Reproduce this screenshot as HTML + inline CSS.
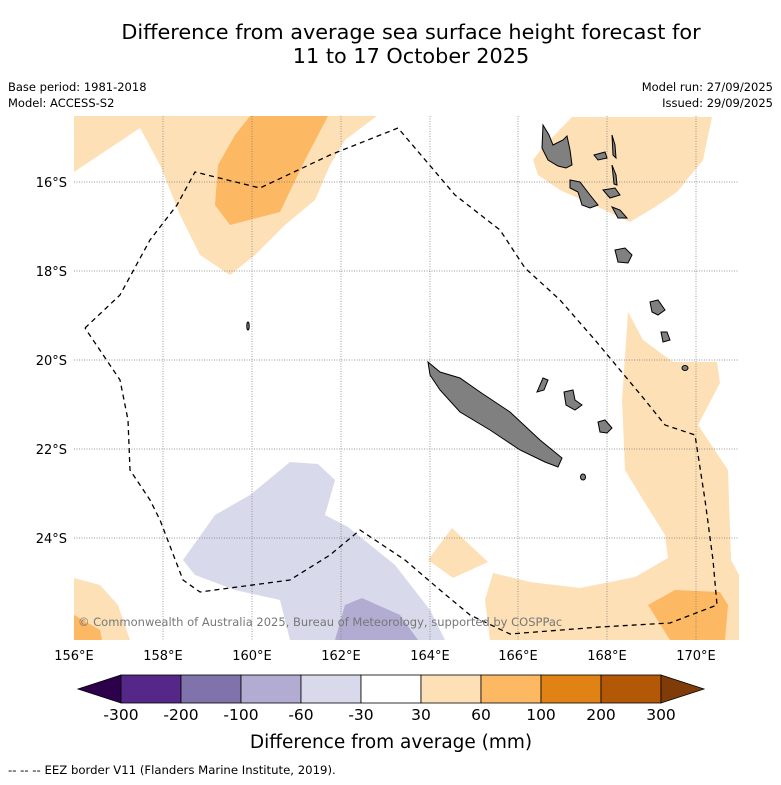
<!DOCTYPE html>
<html><head><meta charset="utf-8"><style>
body{margin:0;background:#fff;font-family:"DejaVu Sans","Liberation Sans",sans-serif}
svg text{font-family:"DejaVu Sans","Liberation Sans",sans-serif}
</style></head><body>
<svg width="781" height="781" viewBox="0 0 781 781">
<text x="411" y="39" text-anchor="middle" font-size="20.8">Difference from average sea surface height forecast for</text>
<text x="411" y="63" text-anchor="middle" font-size="20.8">11 to 17 October 2025</text>
<text x="8" y="91" font-size="11.5">Base period: 1981-2018</text>
<text x="8" y="107" font-size="11.5">Model: ACCESS-S2</text>
<text x="773" y="91" font-size="11.5" text-anchor="end">Model run: 27/09/2025</text>
<text x="773" y="107" font-size="11.5" text-anchor="end">Issued: 29/09/2025</text>
<defs><clipPath id="mc"><rect x="74" y="116" width="665" height="524"/></clipPath></defs>
<g clip-path="url(#mc)">
<polygon fill="#fee0b6" points="74,116 377,116 345,140 330,165 315,200 285,225 255,255 230,275 200,255 180,215 160,165 140,128 74,172"/>
<polygon fill="#fdb863" points="250,116 328,116 305,160 280,212 230,225 215,205 218,165 235,135"/>
<polygon fill="#fee0b6" points="572,117 712,117 703,160 677,192 655,207 630,222 600,208 560,190 538,175 533,160 543,147"/>
<polygon fill="#fee0b6" points="628,312 643,340 673,362 717,362 720,383 698,425 728,470 731,560 739,575 739,640 490,640 485,600 493,573 530,582 580,588 635,577 668,558 665,535 640,495 625,470 622,400"/>
<polygon fill="#fdb863" points="648,605 675,590 720,592 728,605 725,640 670,640"/>
<polygon fill="#fee0b6" points="428,560 452,528 488,562 453,578"/>
<polygon fill="#fee0b6" points="74,578 100,585 118,605 130,640 74,640"/>
<polygon fill="#fdb863" points="74,615 100,630 102,640 74,640"/>
<polygon fill="#d8daeb" points="183,560 215,515 250,495 290,462 318,464 335,480 325,515 348,527 395,565 430,610 445,640 290,640 280,600 235,590 195,575"/>
<polygon fill="#b2abd2" points="335,640 345,605 362,598 400,615 418,640"/>
<g stroke="#777" stroke-width="0.7" stroke-dasharray="1,1.5">
<line x1="163" y1="116" x2="163" y2="640"/><line x1="252" y1="116" x2="252" y2="640"/><line x1="341" y1="116" x2="341" y2="640"/><line x1="430" y1="116" x2="430" y2="640"/><line x1="518" y1="116" x2="518" y2="640"/><line x1="607" y1="116" x2="607" y2="640"/><line x1="696" y1="116" x2="696" y2="640"/>
<line x1="74" y1="182" x2="739" y2="182"/><line x1="74" y1="271" x2="739" y2="271"/><line x1="74" y1="360" x2="739" y2="360"/><line x1="74" y1="449" x2="739" y2="449"/><line x1="74" y1="538" x2="739" y2="538"/>
</g>
<g fill="#808080" stroke="#000" stroke-width="1">
<polygon points="428,362 440,372 460,378 480,392 510,412 540,440 562,458 558,467 545,462 520,450 490,430 460,412 440,390 430,375"/>
<polygon points="543,125 549,135 553,145 563,140 567,136 570,150 572,165 566,168 558,166 548,160 542,148"/>
<polygon points="570,180 580,182 590,195 598,205 590,208 582,205 578,192 570,188"/>
<polygon points="603,190 615,188 620,195 610,198"/>
<polygon points="615,250 625,248 632,255 628,263 618,262"/>
<polygon points="612,135 615,145 616,158 613,155"/>
<polygon points="594,155 605,152 607,158 598,160"/>
<polygon points="612,165 616,175 617,185 614,184"/>
<polygon points="612,207 620,210 627,218 618,218"/>
<polygon points="564,392 573,390 575,400 582,405 575,410 566,405"/>
<polygon points="598,422 605,420 612,428 607,433 600,432"/>
<polygon points="543,378 548,380 544,390 537,392"/>
<polygon points="650,302 658,300 665,310 658,315 652,312"/>
<polygon points="661,332 667,332 670,340 663,342"/>
<ellipse cx="685" cy="368" rx="3" ry="2.5"/>
<ellipse cx="583" cy="477" rx="2.5" ry="3"/>
<ellipse cx="248" cy="326" rx="1.2" ry="4"/>
</g>
<polyline fill="none" stroke="#000" stroke-width="1.3" stroke-dasharray="5,4" points="85,328 120,295 150,240 177,205 195,172 260,188 330,155 398,128 455,195 500,230 525,268 560,300 595,340 620,370 645,400 665,425 695,435 705,500 713,560 717,605 670,623 600,627 510,634 470,615 440,590 405,560 360,530 330,555 290,580 200,592 183,580 160,520 150,500 130,470 128,420 120,380 85,328"/>
</g>
<text x="78" y="626" font-size="11.5" fill="#777">© Commonwealth of Australia 2025, Bureau of Meteorology, supported by COSPPac</text>
<g font-size="13" text-anchor="end">
<text x="67" y="187">16°S</text><text x="67" y="276">18°S</text><text x="67" y="365">20°S</text><text x="67" y="454">22°S</text><text x="67" y="543">24°S</text>
</g>
<g font-size="13" text-anchor="middle">
<text x="74" y="660">156°E</text><text x="163" y="660">158°E</text><text x="252" y="660">160°E</text><text x="341" y="660">162°E</text><text x="430" y="660">164°E</text><text x="518" y="660">166°E</text><text x="607" y="660">168°E</text><text x="696" y="660">170°E</text>
</g>
<g id="cbar"></g>
<text x="391" y="748" text-anchor="middle" font-size="18.5">Difference from average (mm)</text>
<text x="8" y="774" font-size="11.7">--  --  -- EEZ border V11 (Flanders Marine Institute, 2019).</text>
</svg>
<script>
const cbLabels=["-300","-200","-100","-60","-30","30","60","100","200","300"];
const cbColors=["#542788","#8073ac","#b2abd2","#d8daeb","#ffffff","#fee0b6","#fdb863","#e08214","#b35806"];
const cbUnder="#2d004b", cbOver="#7f3b08";
const NS="http://www.w3.org/2000/svg";
const g=document.getElementById('cbar');
const x0=121,w=60,y0=675,h=28;
function mk(t,a){const e=document.createElementNS(NS,t);for(const k in a)e.setAttribute(k,a[k]);g.appendChild(e);return e;}
let p=mk('polygon',{points:`${x0},${y0} 78,${y0+h/2} ${x0},${y0+h}`,fill:cbUnder,stroke:'#000','stroke-width':0.8});


cbColors.forEach((c,i)=>{const r=mk('rect',{x:x0+i*w,y:y0,width:w,height:h,fill:c,stroke:'#000','stroke-width':0.8});

});
const xe=x0+cbColors.length*w;
p=mk('polygon',{points:`${xe},${y0} ${xe+43},${y0+h/2} ${xe},${y0+h}`,fill:cbOver,stroke:'#000','stroke-width':0.8});


cbLabels.forEach((l,i)=>{const t=mk('text',{x:x0+i*w,y:720,'text-anchor':'middle','font-size':15.5});t.textContent=l;

});
</script>
</body></html>
